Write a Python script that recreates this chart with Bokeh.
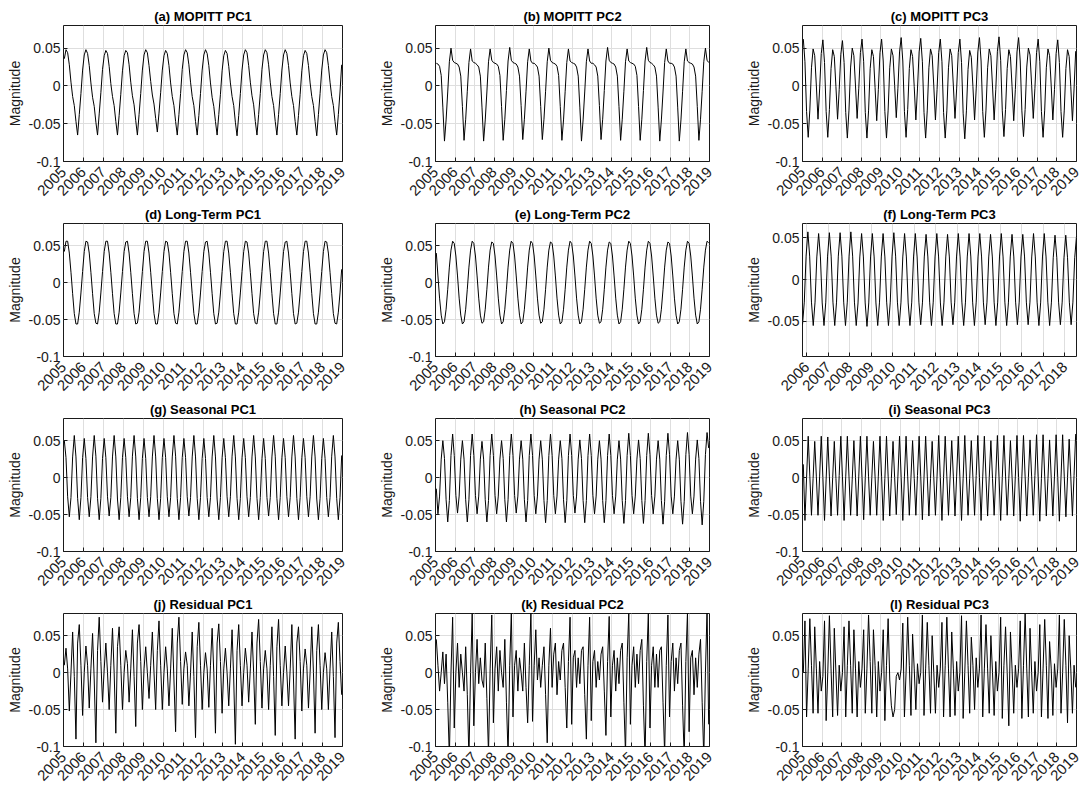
import math
from bokeh.plotting import figure
from bokeh.layouts import gridplot
from bokeh.models import FixedTicker, CustomJSTickFormatter, Range1d
from bokeh.embed import file_html
from bokeh.resources import INLINE

# ---------------- data ----------------
YEAR_TICKS = list(range(2005, 2020))
YEAR_TICKS_F = list(range(2006, 2019))
MAG_TICKS = [-0.1, -0.05, 0.0, 0.05]
MAG_TICKS_F = [-0.05, 0.0, 0.05]

# monthly (mid-month) time stamps, Jan 2005 .. Dec 2018, decimal years
month_times = [2005 + (i + 0.5) / 12 for i in range(168)]
# long-term PC3 only covers Oct 2005 .. Jul 2018
month_times_f = month_times[9:163]

titles = ["(a) MOPITT PC1", "(b) MOPITT PC2", "(c) MOPITT PC3",
          "(d) Long-Term PC1", "(e) Long-Term PC2", "(f) Long-Term PC3",
          "(g) Seasonal PC1", "(h) Seasonal PC2", "(i) Seasonal PC3",
          "(j) Residual PC1", "(k) Residual PC2", "(l) Residual PC3"]

mopitt_pc1 = [
    0.036, 0.048, 0.044, 0.028, 0.005, -0.014, -0.026, -0.047, -0.065, -0.038, -0.010, 0.021,
    0.041, 0.048, 0.043, 0.027, 0.004, -0.015, -0.027, -0.048, -0.065, -0.037, -0.009, 0.022,
    0.040, 0.047, 0.043, 0.026, 0.003, -0.014, -0.026, -0.047, -0.065, -0.039, -0.011, 0.020,
    0.040, 0.047, 0.044, 0.028, 0.005, -0.013, -0.025, -0.046, -0.065, -0.038, -0.010, 0.021,
    0.041, 0.048, 0.044, 0.027, 0.006, -0.012, -0.024, -0.043, -0.061, -0.036, -0.009, 0.021,
    0.040, 0.047, 0.043, 0.027, 0.004, -0.014, -0.026, -0.047, -0.065, -0.038, -0.010, 0.022,
    0.041, 0.048, 0.044, 0.028, 0.005, -0.014, -0.026, -0.047, -0.065, -0.039, -0.010, 0.021,
    0.041, 0.048, 0.043, 0.027, 0.004, -0.015, -0.027, -0.047, -0.065, -0.038, -0.011, 0.020,
    0.040, 0.047, 0.043, 0.026, 0.004, -0.014, -0.026, -0.048, -0.066, -0.039, -0.010, 0.021,
    0.041, 0.048, 0.044, 0.027, 0.005, -0.013, -0.025, -0.047, -0.065, -0.038, -0.010, 0.022,
    0.041, 0.048, 0.044, 0.028, 0.005, -0.014, -0.026, -0.047, -0.065, -0.038, -0.010, 0.021,
    0.041, 0.048, 0.043, 0.027, 0.004, -0.014, -0.026, -0.047, -0.065, -0.039, -0.011, 0.020,
    0.040, 0.047, 0.043, 0.027, 0.004, -0.014, -0.026, -0.047, -0.066, -0.038, -0.010, 0.021,
    0.041, 0.048, 0.044, 0.027, 0.005, -0.014, -0.026, -0.047, -0.065, -0.038, -0.008, 0.028,
]

mopitt_pc2 = [
    0.030, 0.029, 0.026, 0.014, -0.028, -0.073, -0.045, -0.008, 0.032, 0.050, 0.034, 0.031,
    0.030, 0.029, 0.025, 0.013, -0.027, -0.072, -0.044, -0.007, 0.031, 0.049, 0.033, 0.031,
    0.030, 0.028, 0.025, 0.013, -0.028, -0.073, -0.045, -0.008, 0.032, 0.049, 0.034, 0.031,
    0.030, 0.029, 0.026, 0.014, -0.027, -0.072, -0.044, -0.006, 0.033, 0.051, 0.034, 0.031,
    0.030, 0.029, 0.025, 0.013, -0.026, -0.071, -0.044, -0.007, 0.032, 0.049, 0.033, 0.030,
    0.030, 0.028, 0.025, 0.013, -0.027, -0.071, -0.044, -0.007, 0.032, 0.050, 0.034, 0.031,
    0.030, 0.029, 0.026, 0.014, -0.027, -0.072, -0.045, -0.007, 0.031, 0.049, 0.033, 0.031,
    0.030, 0.029, 0.025, 0.013, -0.028, -0.073, -0.045, -0.008, 0.032, 0.049, 0.033, 0.030,
    0.030, 0.028, 0.025, 0.013, -0.026, -0.071, -0.044, -0.006, 0.033, 0.051, 0.034, 0.031,
    0.030, 0.029, 0.025, 0.013, -0.027, -0.072, -0.044, -0.007, 0.032, 0.049, 0.033, 0.031,
    0.030, 0.029, 0.026, 0.014, -0.027, -0.072, -0.044, -0.006, 0.033, 0.051, 0.034, 0.031,
    0.030, 0.028, 0.025, 0.013, -0.028, -0.073, -0.045, -0.008, 0.031, 0.049, 0.033, 0.030,
    0.030, 0.029, 0.025, 0.013, -0.028, -0.073, -0.045, -0.007, 0.032, 0.049, 0.033, 0.031,
    0.030, 0.029, 0.025, 0.013, -0.027, -0.072, -0.044, -0.007, 0.032, 0.050, 0.034, 0.031,
]

mopitt_pc3 = [
    0.062, 0.032, -0.034, -0.068, -0.032, 0.024, 0.049, 0.040, 0.000, -0.044, -0.004, 0.043,
    0.061, 0.031, -0.034, -0.068, -0.031, 0.023, 0.048, 0.039, -0.001, -0.044, -0.005, 0.042,
    0.060, 0.031, -0.035, -0.069, -0.032, 0.025, 0.050, 0.040, 0.000, -0.043, -0.003, 0.044,
    0.062, 0.032, -0.035, -0.069, -0.033, 0.023, 0.048, 0.039, -0.002, -0.046, -0.005, 0.044,
    0.062, 0.033, -0.034, -0.069, -0.032, 0.024, 0.049, 0.040, 0.001, -0.042, -0.003, 0.045,
    0.064, 0.033, -0.034, -0.068, -0.031, 0.023, 0.048, 0.039, -0.001, -0.045, -0.004, 0.045,
    0.063, 0.032, -0.035, -0.069, -0.032, 0.024, 0.049, 0.040, 0.000, -0.045, -0.005, 0.044,
    0.062, 0.032, -0.035, -0.069, -0.033, 0.024, 0.049, 0.040, 0.000, -0.043, -0.004, 0.044,
    0.062, 0.031, -0.036, -0.070, -0.033, 0.022, 0.047, 0.038, -0.001, -0.045, -0.004, 0.045,
    0.064, 0.033, -0.034, -0.068, -0.032, 0.024, 0.049, 0.040, 0.000, -0.045, -0.005, 0.046,
    0.065, 0.034, -0.033, -0.067, -0.031, 0.023, 0.048, 0.039, -0.001, -0.046, -0.005, 0.045,
    0.064, 0.033, -0.033, -0.067, -0.031, 0.025, 0.050, 0.041, 0.001, -0.043, -0.003, 0.044,
    0.062, 0.032, -0.034, -0.068, -0.032, 0.024, 0.049, 0.040, 0.000, -0.045, -0.005, 0.043,
    0.061, 0.031, -0.034, -0.068, -0.032, 0.023, 0.048, 0.039, -0.001, -0.046, -0.004, 0.046,
]

longterm_pc1 = [
    0.042, 0.056, 0.056, 0.040, 0.014, -0.015, -0.042, -0.056, -0.056, -0.040, -0.014, 0.015,
    0.042, 0.056, 0.055, 0.040, 0.014, -0.015, -0.042, -0.055, -0.056, -0.040, -0.014, 0.015,
    0.042, 0.056, 0.056, 0.040, 0.014, -0.015, -0.042, -0.056, -0.056, -0.040, -0.014, 0.015,
    0.042, 0.055, 0.056, 0.040, 0.014, -0.015, -0.042, -0.056, -0.055, -0.040, -0.014, 0.015,
    0.042, 0.056, 0.056, 0.040, 0.014, -0.015, -0.042, -0.056, -0.056, -0.040, -0.014, 0.015,
    0.042, 0.056, 0.055, 0.040, 0.014, -0.015, -0.042, -0.055, -0.056, -0.040, -0.014, 0.015,
    0.042, 0.056, 0.056, 0.040, 0.014, -0.015, -0.042, -0.056, -0.056, -0.040, -0.014, 0.015,
    0.042, 0.055, 0.056, 0.040, 0.014, -0.015, -0.042, -0.056, -0.055, -0.040, -0.014, 0.015,
    0.042, 0.056, 0.056, 0.040, 0.014, -0.015, -0.042, -0.056, -0.056, -0.040, -0.014, 0.015,
    0.042, 0.056, 0.055, 0.040, 0.014, -0.015, -0.042, -0.055, -0.056, -0.040, -0.014, 0.015,
    0.042, 0.056, 0.056, 0.040, 0.014, -0.015, -0.042, -0.056, -0.056, -0.040, -0.014, 0.015,
    0.042, 0.055, 0.056, 0.040, 0.014, -0.015, -0.042, -0.056, -0.055, -0.040, -0.014, 0.015,
    0.042, 0.056, 0.056, 0.040, 0.014, -0.015, -0.042, -0.056, -0.056, -0.040, -0.014, 0.015,
    0.042, 0.056, 0.055, 0.040, 0.014, -0.015, -0.042, -0.055, -0.056, -0.040, -0.014, 0.018,
]

longterm_pc2 = [
    0.040, 0.009, -0.021, -0.044, -0.056, -0.053, -0.036, -0.009, 0.021, 0.044, 0.056, 0.053,
    0.036, 0.009, -0.021, -0.044, -0.056, -0.053, -0.036, -0.009, 0.021, 0.044, 0.056, 0.053,
    0.036, 0.009, -0.021, -0.044, -0.055, -0.053, -0.036, -0.009, 0.021, 0.044, 0.055, 0.053,
    0.036, 0.009, -0.021, -0.044, -0.056, -0.053, -0.036, -0.009, 0.021, 0.044, 0.056, 0.053,
    0.036, 0.009, -0.021, -0.044, -0.056, -0.053, -0.036, -0.009, 0.021, 0.044, 0.056, 0.053,
    0.036, 0.009, -0.021, -0.044, -0.055, -0.053, -0.036, -0.009, 0.021, 0.044, 0.055, 0.053,
    0.036, 0.009, -0.021, -0.044, -0.056, -0.053, -0.036, -0.009, 0.021, 0.044, 0.056, 0.053,
    0.036, 0.009, -0.021, -0.044, -0.056, -0.053, -0.036, -0.009, 0.021, 0.044, 0.056, 0.053,
    0.036, 0.009, -0.021, -0.044, -0.055, -0.053, -0.036, -0.009, 0.021, 0.044, 0.055, 0.053,
    0.036, 0.009, -0.021, -0.044, -0.056, -0.053, -0.036, -0.009, 0.021, 0.044, 0.056, 0.053,
    0.036, 0.009, -0.021, -0.044, -0.056, -0.053, -0.036, -0.009, 0.021, 0.044, 0.056, 0.053,
    0.036, 0.009, -0.021, -0.044, -0.055, -0.053, -0.036, -0.009, 0.021, 0.044, 0.055, 0.053,
    0.036, 0.009, -0.021, -0.044, -0.056, -0.053, -0.036, -0.009, 0.021, 0.044, 0.056, 0.053,
    0.036, 0.009, -0.021, -0.044, -0.056, -0.053, -0.036, -0.009, 0.021, 0.044, 0.056, 0.054,
]

# Oct 2005 .. Jul 2018
longterm_pc3 = [
    -0.054, -0.027, 0.028,
    0.057, 0.028, -0.027, -0.055, -0.027, 0.027, 0.055, 0.027, -0.028, -0.055, -0.027, 0.028,
    0.056, 0.028, -0.027, -0.055, -0.027, 0.028, 0.056, 0.028, -0.027, -0.055, -0.027, 0.028,
    0.057, 0.028, -0.027, -0.055, -0.028, 0.027, 0.055, 0.027, -0.028, -0.056, -0.028, 0.027,
    0.055, 0.027, -0.028, -0.055, -0.027, 0.027, 0.055, 0.027, -0.027, -0.055, -0.027, 0.028,
    0.056, 0.028, -0.027, -0.055, -0.027, 0.027, 0.055, 0.027, -0.028, -0.055, -0.027, 0.027,
    0.055, 0.027, -0.027, -0.054, -0.027, 0.027, 0.054, 0.027, -0.027, -0.055, -0.027, 0.027,
    0.055, 0.027, -0.028, -0.055, -0.027, 0.027, 0.054, 0.027, -0.027, -0.054, -0.027, 0.027,
    0.055, 0.027, -0.027, -0.055, -0.027, 0.027, 0.055, 0.027, -0.027, -0.055, -0.027, 0.027,
    0.055, 0.027, -0.027, -0.054, -0.027, 0.027, 0.054, 0.027, -0.027, -0.055, -0.027, 0.027,
    0.055, 0.027, -0.027, -0.055, -0.027, 0.027, 0.054, 0.027, -0.027, -0.054, -0.027, 0.027,
    0.054, 0.027, -0.027, -0.054, -0.027, 0.027, 0.055, 0.027, -0.027, -0.055, -0.027, 0.027,
    0.055, 0.027, -0.027, -0.055, -0.027, 0.026, 0.053, 0.026, -0.027, -0.054, -0.027, 0.026,
    0.053, 0.026, -0.027, -0.054, -0.027, 0.026, 0.052,
]

seasonal_pc1 = [
    0.050, 0.027, -0.026, -0.053, -0.027, 0.028, 0.057, 0.028, -0.028, -0.057, -0.027, 0.027,
    0.053, 0.026, -0.027, -0.053, -0.026, 0.028, 0.057, 0.029, -0.028, -0.057, -0.028, 0.026,
    0.053, 0.027, -0.026, -0.052, -0.027, 0.028, 0.057, 0.028, -0.029, -0.057, -0.027, 0.027,
    0.053, 0.027, -0.026, -0.053, -0.027, 0.029, 0.057, 0.028, -0.028, -0.057, -0.027, 0.026,
    0.053, 0.026, -0.027, -0.053, -0.026, 0.028, 0.057, 0.028, -0.028, -0.057, -0.028, 0.027,
    0.053, 0.027, -0.026, -0.053, -0.027, 0.028, 0.057, 0.029, -0.028, -0.057, -0.027, 0.027,
    0.053, 0.027, -0.026, -0.052, -0.027, 0.028, 0.057, 0.028, -0.028, -0.057, -0.027, 0.026,
    0.053, 0.026, -0.027, -0.053, -0.027, 0.028, 0.057, 0.028, -0.029, -0.057, -0.027, 0.027,
    0.053, 0.027, -0.026, -0.053, -0.026, 0.029, 0.057, 0.028, -0.028, -0.057, -0.028, 0.027,
    0.053, 0.027, -0.026, -0.053, -0.027, 0.028, 0.057, 0.028, -0.028, -0.057, -0.027, 0.026,
    0.053, 0.026, -0.027, -0.052, -0.027, 0.028, 0.057, 0.029, -0.028, -0.057, -0.027, 0.027,
    0.053, 0.027, -0.026, -0.053, -0.027, 0.028, 0.057, 0.028, -0.028, -0.057, -0.027, 0.027,
    0.053, 0.027, -0.026, -0.053, -0.026, 0.028, 0.057, 0.028, -0.029, -0.057, -0.028, 0.026,
    0.053, 0.026, -0.027, -0.053, -0.027, 0.029, 0.057, 0.028, -0.028, -0.057, -0.027, 0.030,
]

seasonal_pc2 = [
    -0.015, -0.049, -0.025, 0.025, 0.050, 0.026, -0.030, -0.060, -0.031, 0.030, 0.059, 0.030,
    -0.024, -0.048, -0.025, 0.025, 0.050, 0.025, -0.030, -0.060, -0.030, 0.030, 0.059, 0.030,
    -0.024, -0.049, -0.025, 0.025, 0.049, 0.025, -0.030, -0.060, -0.031, 0.030, 0.059, 0.030,
    -0.024, -0.049, -0.025, 0.025, 0.050, 0.026, -0.030, -0.060, -0.030, 0.030, 0.059, 0.030,
    -0.024, -0.048, -0.025, 0.025, 0.050, 0.025, -0.030, -0.060, -0.031, 0.030, 0.059, 0.030,
    -0.024, -0.049, -0.025, 0.025, 0.050, 0.025, -0.031, -0.061, -0.031, 0.030, 0.059, 0.030,
    -0.024, -0.049, -0.025, 0.025, 0.050, 0.026, -0.030, -0.061, -0.031, 0.030, 0.059, 0.030,
    -0.024, -0.048, -0.025, 0.025, 0.051, 0.026, -0.031, -0.061, -0.031, 0.030, 0.059, 0.030,
    -0.024, -0.049, -0.025, 0.025, 0.050, 0.025, -0.031, -0.061, -0.031, 0.030, 0.059, 0.030,
    -0.024, -0.049, -0.025, 0.025, 0.050, 0.025, -0.031, -0.062, -0.031, 0.030, 0.060, 0.030,
    -0.024, -0.049, -0.025, 0.025, 0.051, 0.026, -0.031, -0.062, -0.031, 0.030, 0.060, 0.031,
    -0.024, -0.049, -0.025, 0.025, 0.050, 0.025, -0.031, -0.063, -0.032, 0.030, 0.060, 0.031,
    -0.025, -0.049, -0.025, 0.025, 0.050, 0.025, -0.032, -0.063, -0.032, 0.031, 0.061, 0.031,
    -0.025, -0.049, -0.025, 0.025, 0.051, 0.026, -0.032, -0.064, -0.032, 0.031, 0.061, 0.040,
]

seasonal_pc3 = [
    0.018, -0.058, 0.000, 0.056, 0.002, -0.051, -0.001, 0.049, 0.001, -0.051, 0.002, 0.056,
    0.000, -0.058, -0.002, 0.055, 0.001, -0.052, 0.000, 0.049, -0.001, -0.051, 0.003, 0.056,
    0.001, -0.058, 0.001, 0.056, 0.002, -0.051, -0.002, 0.050, 0.000, -0.052, 0.002, 0.056,
    0.000, -0.057, 0.000, 0.056, 0.001, -0.051, 0.000, 0.049, 0.001, -0.051, 0.002, 0.056,
    0.001, -0.058, -0.001, 0.056, 0.002, -0.052, -0.001, 0.049, 0.000, -0.050, 0.002, 0.056,
    0.000, -0.058, 0.001, 0.056, 0.001, -0.051, 0.000, 0.050, -0.001, -0.051, 0.003, 0.056,
    0.001, -0.057, 0.000, 0.056, 0.002, -0.052, -0.001, 0.049, 0.000, -0.051, 0.002, 0.057,
    0.000, -0.058, 0.000, 0.056, 0.001, -0.051, 0.000, 0.050, 0.001, -0.052, 0.002, 0.056,
    0.001, -0.058, -0.001, 0.057, 0.002, -0.051, -0.001, 0.050, 0.000, -0.051, 0.003, 0.057,
    0.000, -0.058, 0.001, 0.056, 0.001, -0.052, 0.000, 0.050, -0.001, -0.051, 0.002, 0.057,
    0.001, -0.058, 0.000, 0.057, 0.002, -0.051, -0.001, 0.050, 0.000, -0.052, 0.002, 0.057,
    0.000, -0.059, 0.001, 0.057, 0.001, -0.052, 0.000, 0.051, 0.001, -0.051, 0.003, 0.058,
    0.001, -0.059, -0.001, 0.058, 0.002, -0.052, -0.001, 0.051, 0.000, -0.052, 0.002, 0.058,
    0.000, -0.059, 0.000, 0.058, 0.001, -0.053, 0.000, 0.052, 0.001, -0.052, 0.003, 0.059,
]

residual_pc1 = [
    0.010, 0.033, 0.005, -0.052, 0.000, 0.055, -0.005, -0.090, 0.040, 0.065, 0.010, -0.058,
    0.000, 0.036, 0.010, -0.048, 0.005, 0.053, -0.010, -0.095, 0.030, 0.075, 0.015, -0.040,
    0.005, 0.040, 0.000, -0.050, 0.010, 0.060, 0.000, -0.082, 0.035, 0.062, 0.010, -0.050,
    0.000, 0.030, 0.012, -0.040, 0.005, 0.058, -0.005, -0.073, 0.040, 0.065, 0.015, -0.050,
    0.005, 0.035, 0.000, -0.035, 0.010, 0.055, 0.000, -0.050, 0.030, 0.070, 0.010, -0.050,
    0.000, 0.035, 0.005, -0.045, 0.005, 0.060, -0.010, -0.080, 0.040, 0.075, 0.015, -0.043,
    0.005, 0.028, 0.010, -0.045, 0.000, 0.055, -0.005, -0.088, 0.035, 0.068, 0.010, -0.050,
    0.000, 0.027, 0.005, -0.047, 0.010, 0.060, 0.000, -0.082, 0.040, 0.066, 0.015, -0.055,
    0.005, 0.033, 0.000, -0.045, 0.005, 0.058, -0.010, -0.097, 0.030, 0.065, 0.010, -0.045,
    0.000, 0.033, 0.010, -0.040, 0.005, 0.055, 0.000, -0.070, 0.040, 0.072, 0.015, -0.048,
    0.005, 0.030, 0.005, -0.050, 0.010, 0.062, -0.005, -0.085, 0.035, 0.072, 0.010, -0.045,
    0.000, 0.036, 0.000, -0.045, 0.005, 0.065, -0.010, -0.090, 0.040, 0.062, 0.015, -0.052,
    0.005, 0.032, 0.010, -0.048, 0.000, 0.062, 0.000, -0.082, 0.030, 0.065, 0.010, -0.050,
    0.000, 0.027, 0.005, -0.050, 0.005, 0.055, -0.005, -0.088, 0.040, 0.068, 0.015, -0.030,
]

residual_pc2 = [
    0.045, 0.010, -0.025, 0.000, 0.028, -0.015, 0.025, -0.040, -0.115, 0.000, 0.075, -0.075,
    0.000, 0.040, -0.020, 0.025, 0.000, -0.025, 0.035, -0.030, -0.115, 0.000, 0.080, -0.072,
    0.000, 0.045, -0.015, 0.020, -0.010, -0.020, 0.040, -0.035, -0.110, 0.005, 0.078, -0.068,
    0.005, 0.035, -0.025, 0.030, 0.000, -0.020, 0.045, -0.040, -0.112, 0.010, 0.082, -0.060,
    0.010, 0.030, -0.025, 0.020, 0.000, -0.025, 0.040, -0.020, -0.068, 0.010, 0.082, -0.066,
    0.010, 0.058, -0.010, 0.020, -0.020, 0.010, 0.035, -0.030, -0.095, 0.010, 0.060, -0.020,
    0.025, 0.040, -0.030, 0.015, -0.010, 0.030, 0.040, -0.020, -0.075, 0.015, 0.075, -0.070,
    0.020, 0.030, -0.020, 0.020, -0.015, 0.030, 0.035, -0.030, -0.090, 0.010, 0.075, -0.065,
    0.015, 0.030, -0.020, 0.015, -0.010, 0.025, 0.035, -0.025, -0.085, 0.015, 0.076, -0.060,
    0.010, 0.030, -0.025, 0.020, -0.015, 0.030, 0.040, -0.040, -0.110, 0.020, 0.080, -0.070,
    0.010, 0.035, -0.020, 0.025, -0.015, 0.030, 0.045, -0.045, -0.115, 0.015, 0.080, -0.075,
    0.010, 0.035, -0.020, 0.025, -0.020, 0.030, 0.035, -0.040, -0.110, 0.010, 0.078, -0.060,
    0.015, 0.040, -0.025, 0.020, -0.015, 0.030, 0.040, -0.045, -0.115, 0.015, 0.082, -0.080,
    0.020, 0.030, -0.030, 0.020, -0.020, 0.025, 0.045, -0.040, -0.115, 0.000, 0.085, -0.070,
]

residual_pc3 = [
    0.000, 0.070, -0.060, 0.005, 0.073, 0.010, -0.055, 0.062, 0.005, -0.055, 0.015, -0.025,
    -0.005, 0.070, -0.065, 0.000, 0.077, 0.005, -0.060, 0.060, 0.000, -0.058, 0.010, -0.025,
    0.000, 0.062, -0.060, 0.010, 0.070, 0.010, -0.055, 0.058, 0.005, -0.060, 0.015, -0.020,
    0.005, 0.058, -0.055, 0.005, 0.078, 0.015, -0.055, 0.058, 0.010, -0.060, 0.015, -0.025,
    0.000, 0.058, -0.065, 0.010, 0.073, -0.010, -0.045, -0.060, -0.050, -0.005, 0.000, -0.010,
    0.005, 0.067, -0.060, 0.000, 0.075, 0.010, -0.058, 0.052, 0.005, -0.050, 0.012, -0.015,
    0.000, 0.078, -0.058, 0.005, 0.068, 0.010, -0.055, 0.050, 0.000, -0.055, 0.010, -0.020,
    0.005, 0.068, -0.060, 0.010, 0.075, 0.005, -0.060, 0.055, 0.005, -0.058, 0.015, -0.025,
    0.000, 0.077, -0.062, 0.000, 0.070, 0.010, -0.055, 0.048, 0.010, -0.050, 0.020, -0.020,
    0.005, 0.078, -0.060, 0.005, 0.065, 0.005, -0.055, 0.050, 0.000, -0.058, 0.015, -0.025,
    0.000, 0.075, -0.062, 0.010, 0.062, 0.000, -0.072, 0.055, 0.005, -0.055, 0.010, -0.020,
    0.005, 0.070, -0.062, 0.010, 0.080, 0.005, -0.060, 0.060, 0.000, -0.055, 0.015, -0.025,
    0.000, 0.065, -0.060, 0.005, 0.072, 0.010, -0.062, 0.042, 0.005, -0.058, 0.012, -0.020,
    0.005, 0.078, -0.055, 0.000, 0.072, 0.010, -0.068, 0.050, 0.005, -0.055, 0.010, -0.020,
]

series = [mopitt_pc1, mopitt_pc2, mopitt_pc3,
          longterm_pc1, longterm_pc2, longterm_pc3,
          seasonal_pc1, seasonal_pc2, seasonal_pc3,
          residual_pc1, residual_pc2, residual_pc3]

# ---------------- styling ----------------
FONT = "Liberation Sans"
INK = "#1a1a1a"
GRID = "#dedede"


def make_panel(idx):
    row, col = divmod(idx, 3)
    y = series[idx]
    special = (idx == 5)
    x = month_times_f if special else month_times
    if special:
        xr = Range1d(x[0], x[-1])
        yr = Range1d(-0.092, 0.067)
        xt, yt = YEAR_TICKS_F, MAG_TICKS_F
    else:
        xr = Range1d(2005, 2019)
        yr = Range1d(-0.1, 0.08)
        xt, yt = YEAR_TICKS, MAG_TICKS

    b_left = 63 if col == 0 else 55
    b_right = 33 if col < 2 else 8
    b_top = 25 if row == 0 else 17
    b_bottom = 42 if row < 3 else 44
    p = figure(width=b_left + 279 + b_right, height=b_top + 136 + b_bottom,
               x_range=xr, y_range=yr,
               min_border_left=b_left, min_border_right=b_right,
               min_border_top=b_top, min_border_bottom=b_bottom,
               output_backend="svg", toolbar_location=None, tools="",
               background_fill_color="white", border_fill_color="white")

    p.line(x, y, line_color="black", line_width=1)

    p.title.text = titles[idx]
    p.title.align = "center"
    p.title.text_font = FONT
    p.title.text_font_size = "13px"
    p.title.text_font_style = "bold"
    p.title.text_color = "black"
    p.title.standoff = 3

    p.outline_line_color = INK
    p.outline_line_width = 1
    p.outline_line_alpha = 1

    p.xgrid.grid_line_color = GRID
    p.ygrid.grid_line_color = GRID

    p.xaxis.ticker = FixedTicker(ticks=xt)
    p.yaxis.ticker = FixedTicker(ticks=yt)
    p.yaxis.formatter = CustomJSTickFormatter(
        code="return tick.toFixed(2).replace(/0+$/, '').replace(/\\.$/, '');")

    for ax in (p.xaxis, p.yaxis):
        ax.axis_line_color = None
        ax.major_tick_in = 4
        ax.major_tick_out = 0
        ax.major_tick_line_color = INK
        ax.minor_tick_line_color = None
        ax.major_label_text_font = FONT
        ax.major_label_text_font_size = "14px"
        ax.major_label_text_color = INK

    p.xaxis.major_label_orientation = math.pi / 4
    p.xaxis.major_label_text_font_size = "15px"
    p.xaxis.major_label_standoff = 8
    p.yaxis.major_label_standoff = 3

    p.yaxis.axis_label = "Magnitude"
    p.yaxis.axis_label_text_font = FONT
    p.yaxis.axis_label_text_font_size = "14px"
    p.yaxis.axis_label_text_font_style = "normal"
    p.yaxis.axis_label_text_color = INK
    p.yaxis.axis_label_standoff = 3
    return p


panels = [make_panel(i) for i in range(12)]
rows = [panels[r * 3:(r + 1) * 3] for r in range(4)]
grid = gridplot(rows, toolbar_location=None)

open("out.html", "w").write(file_html(grid, INLINE, title="MOPITT PCs"))
